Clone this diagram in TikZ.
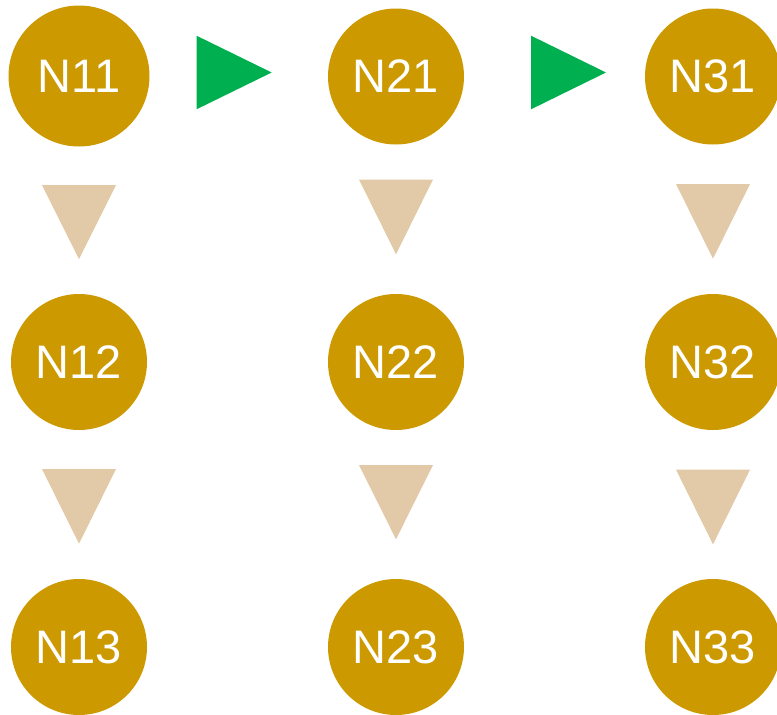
\documentclass[tikz,border=0pt]{standalone}
\usepackage{fontspec}
\setmainfont{Liberation Sans}
\definecolor{gold}{HTML}{CC9900}
\definecolor{arrgreen}{HTML}{00B050}
\definecolor{tan}{HTML}{E2C9A8}
\begin{document}
\begin{tikzpicture}[x=1pt,y=-1pt,
  nodecirc/.style={circle,fill=gold,inner sep=0pt,minimum size=136pt,text=white,
    font=\fontsize{47}{56}\selectfont},
  greentri/.style={fill=arrgreen},
  tantri/.style={fill=tan}]
\useasboundingbox (0,0) rectangle (777,715);
\node[nodecirc,minimum size=141pt] (N11) at (79,76) {N11};
\node[nodecirc] (N21) at (396,76.5) {N21};
\node[nodecirc] (N31) at (713,76.5) {N31};
\node[nodecirc] (N12) at (79,362) {N12};
\node[nodecirc] (N22) at (396,362) {N22};
\node[nodecirc] (N32) at (713,362) {N32};
\node[nodecirc] (N13) at (79,647) {N13};
\node[nodecirc] (N23) at (396,647) {N23};
\node[nodecirc] (N33) at (713,647) {N33};
% horizontal connectors (green)
\fill[greentri] (196.5,35.7) -- (271.7,72.5) -- (196.5,109.3) -- cycle;
\fill[greentri] (531,35.7) -- (606,72.5) -- (531,109.3) -- cycle;
% vertical connectors (tan)
\fill[tantri] (42,185) -- (116,185) -- (79,259) -- cycle;
\fill[tantri] (359,179.5) -- (433,179.5) -- (396,254.3) -- cycle;
\fill[tantri] (676,184) -- (750,184) -- (713,258.7) -- cycle;
\fill[tantri] (42,469) -- (116,469) -- (79,543.7) -- cycle;
\fill[tantri] (359,465) -- (433,465) -- (396,539.3) -- cycle;
\fill[tantri] (676,469.7) -- (750,469.7) -- (713,544.3) -- cycle;
\end{tikzpicture}
\end{document}
